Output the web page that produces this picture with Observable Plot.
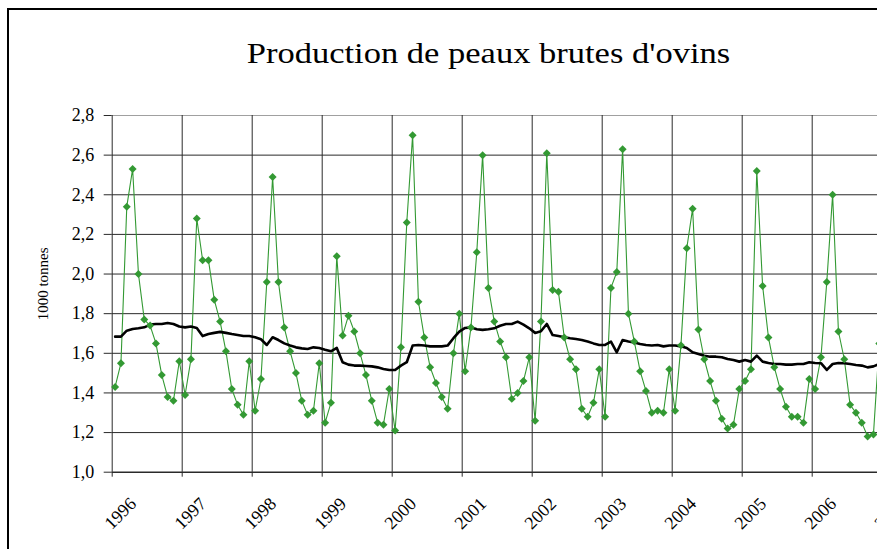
<!DOCTYPE html>
<html>
<head>
<meta charset="utf-8">
<script src="https://cdn.jsdelivr.net/npm/d3@7"></script>
<script src="https://cdn.jsdelivr.net/npm/@observablehq/plot@0.6"></script>
<style>
html, body { margin: 0; padding: 0; background: #fff; overflow: hidden; width: 877px; height: 549px; }
#frame { position: absolute; left: 7px; top: 8px; width: 990px; height: 620px; border: 2px solid #000; box-sizing: border-box; }
#chart { position: absolute; left: 0; top: 0; }
#title { position: absolute; left: 0; top: 39px; width: 977px; text-align: center; font-family: "Liberation Serif", "Times New Roman", serif; font-size: 29px; line-height: 29px; color: #000; white-space: nowrap; transform: scaleX(1.19); transform-origin: 488.5px 0; }
</style>
</head>
<body>
<div id="frame"></div>
<div id="chart"></div>
<div id="title">Production de peaux brutes d'ovins</div>
<script>
const title = "Production de peaux brutes d'ovins";
const yLabel = "1000 tonnes";
const years = [1996, 1997, 1998, 1999, 2000, 2001, 2002, 2003, 2004, 2005, 2006, 2007];
const yTicks = [1.0, 1.2, 1.4, 1.6, 1.8, 2.0, 2.2, 2.4, 2.6, 2.8];

// Monthly production, Jan 1996 .. Dec 2006 (1000 tonnes)
const production = [
  1.43, 1.55, 2.34, 2.53, 2.00, 1.77, 1.74, 1.65, 1.49, 1.38, 1.36, 1.56,
  1.39, 1.57, 2.28, 2.07, 2.07, 1.87, 1.76, 1.61, 1.42, 1.34, 1.29, 1.56,
  1.31, 1.47, 1.96, 2.49, 1.96, 1.73, 1.61, 1.50, 1.36, 1.29, 1.31, 1.55,
  1.25, 1.35, 2.09, 1.69, 1.79, 1.71, 1.60, 1.49, 1.36, 1.25, 1.24, 1.42,
  1.21, 1.63, 2.26, 2.70, 1.86, 1.68, 1.53, 1.45, 1.38, 1.32, 1.60, 1.80,
  1.51, 1.73, 2.11, 2.60, 1.93, 1.76, 1.66, 1.58, 1.37, 1.40, 1.46, 1.58,
  1.26, 1.76, 2.61, 1.92, 1.91, 1.68, 1.57, 1.52, 1.32, 1.28, 1.35, 1.52,
  1.28, 1.93, 2.01, 2.63, 1.80, 1.66, 1.51, 1.41, 1.30, 1.31, 1.30, 1.52,
  1.31, 1.64, 2.13, 2.33, 1.72, 1.57, 1.46, 1.36, 1.27, 1.22, 1.24, 1.42,
  1.46, 1.52, 2.52, 1.94, 1.68, 1.53, 1.42, 1.33, 1.28, 1.28, 1.25, 1.47,
  1.42, 1.58, 1.96, 2.40, 1.71, 1.57, 1.34, 1.30, 1.25, 1.18, 1.19, 1.65
];

// Trend line (black), same months
const trend = [
  1.684, 1.684, 1.714, 1.723, 1.726, 1.731, 1.745, 1.748, 1.748, 1.753, 1.748, 1.735,
  1.731, 1.735, 1.728, 1.687, 1.697, 1.703, 1.708, 1.703, 1.697, 1.692, 1.687, 1.687,
  1.681, 1.671, 1.642, 1.681, 1.667, 1.650, 1.639, 1.630, 1.625, 1.622, 1.630, 1.627,
  1.618, 1.610, 1.627, 1.555, 1.543, 1.538, 1.538, 1.536, 1.534, 1.529, 1.521, 1.516,
  1.516, 1.538, 1.555, 1.639, 1.642, 1.639, 1.635, 1.635, 1.635, 1.639, 1.676, 1.709,
  1.728, 1.731, 1.721, 1.718, 1.721, 1.726, 1.739, 1.748, 1.748, 1.760, 1.745, 1.726,
  1.703, 1.711, 1.748, 1.692, 1.687, 1.681, 1.676, 1.672, 1.667, 1.660, 1.650, 1.642,
  1.642, 1.659, 1.605, 1.667, 1.660, 1.655, 1.647, 1.642, 1.639, 1.642, 1.635, 1.639,
  1.639, 1.635, 1.627, 1.605, 1.597, 1.588, 1.583, 1.583, 1.580, 1.571, 1.566, 1.558,
  1.566, 1.558, 1.588, 1.558, 1.551, 1.546, 1.546, 1.543, 1.543, 1.546, 1.546, 1.555,
  1.551, 1.550, 1.516, 1.546, 1.551, 1.550, 1.546, 1.541, 1.538, 1.529, 1.534, 1.546
];

const rows = production.map((v, i) => ({t: i + 0.5, v, tr: trend[i]}));
const yearPos = years.map((y, i) => i * 12);
const fmt = d => d.toFixed(1).replace(".", ",");

const W = 960, H = 549;
const chart = Plot.plot({
  width: W,
  height: H,
  marginLeft: 111.7,
  marginRight: W - 881.7,
  marginTop: 115,
  marginBottom: H - 471.7,
  style: {fontFamily: '"Liberation Serif", "Times New Roman", serif', fontSize: "18px", background: "transparent", maxWidth: "none", overflow: "visible", color: "#000"},
  x: {domain: [0, 132], label: null},
  y: {domain: [1.0, 2.8], label: null},
  marks: [
    Plot.ruleY(yTicks.slice(1, -1), {stroke: "#2a2a2a", strokeWidth: 1}),
    Plot.ruleY([yTicks[yTicks.length - 1]], {stroke: "#a0a0a0", strokeWidth: 1}),
    Plot.ruleX(yearPos, {stroke: "#2a2a2a", strokeWidth: 1}),
    Plot.ruleY([yTicks[0]], {stroke: "#2a2a2a", strokeWidth: 1.5}),
    Plot.axisX(yearPos, {tickSize: 5, tickFormat: () => "", stroke: "#2a2a2a", label: null}),
    Plot.axisY(yTicks, {tickSize: 8, tickPadding: 10, tickFormat: fmt, stroke: "#2a2a2a", fill: "#000", fontSize: 18, fontFamily: '"Liberation Serif", serif', label: null}),
    Plot.text(yearPos, {x: d => d, frameAnchor: "bottom", text: (d, i) => String(years[i]), rotate: -45, dx: 8.3, dy: 41.3, textAnchor: "middle", lineAnchor: "middle", fontSize: 18, fontFamily: '"Liberation Serif", serif', fill: "#000"}),
    Plot.text([yLabel], {frameAnchor: "left", text: d => d, rotate: -90, dx: 43 - 111.7, dy: -10, textAnchor: "middle", lineAnchor: "middle", fontSize: 15, fontFamily: '"Liberation Serif", serif', fill: "#000"}),
    Plot.line(rows, {x: "t", y: "v", stroke: "#339933", strokeWidth: 1.1}),
    Plot.line(rows, {x: "t", y: "tr", stroke: "#000", strokeWidth: 2.6}),
    Plot.dot(rows, {x: "t", y: "v", symbol: "diamond2", r: 3.6, fill: "#339933", stroke: "none"})
  ]
});
document.getElementById("chart").appendChild(chart);
</script>
</body>
</html>
